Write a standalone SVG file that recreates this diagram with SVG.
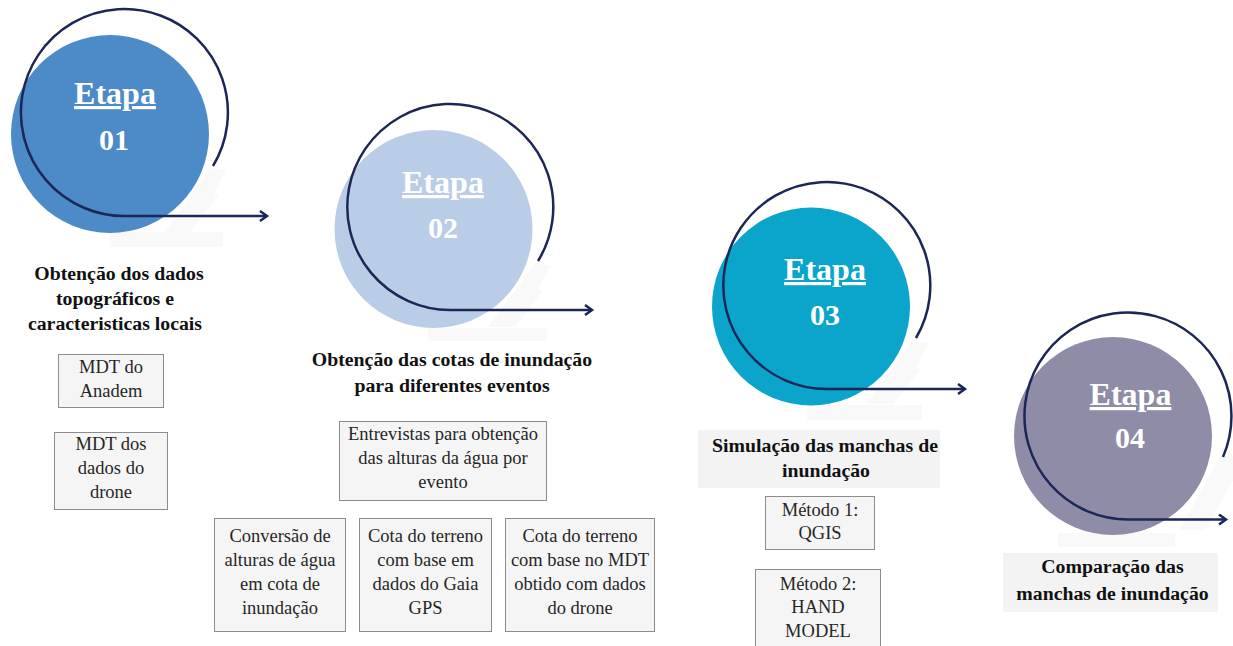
<svg xmlns="http://www.w3.org/2000/svg" width="1233" height="646" viewBox="0 0 1233 646">
  <style>
    .etapa { font-family: "Liberation Serif", "Times New Roman", serif; font-weight: bold; font-size: 32px; fill: #ffffff; text-anchor: middle; text-decoration: underline; }
    .num { font-family: "Liberation Serif", "Times New Roman", serif; font-weight: bold; font-size: 30px; fill: #ffffff; text-anchor: middle; }
    .title { font-family: "Liberation Serif", "Times New Roman", serif; font-weight: bold; font-size: 19.8px; fill: #111111; text-anchor: middle; }
    .box { fill: #f5f5f5; stroke: #8c8c8c; stroke-width: 1; }
    .btxt { font-family: "Liberation Serif", "Times New Roman", serif; font-size: 18.5px; fill: #262626; text-anchor: middle; }
    .ghost { fill: #f9f9f9; }
    .tbg { fill: #f3f3f3; }
    .arc { fill: none; stroke: #1c2657; stroke-width: 2.5; marker-end: url(#arr); }
  </style>
  <defs>
    <marker id="arr" markerWidth="12" markerHeight="14" refX="9" refY="6" orient="auto" markerUnits="userSpaceOnUse">
      <path d="M2,1 L9,6 L2,11" fill="none" stroke="#1c2657" stroke-width="2.5" stroke-linejoin="miter"/>
    </marker>
  </defs>

  <rect width="1233" height="646" fill="#ffffff"/>

  <!-- Stage 1 -->
  <g id="etapa01">
    <g class="ghost">
      <polygon points="210,168 226,170 214,194 218,196 190,232 165,232"/>
      <rect x="110" y="232" width="113" height="15"/>
    </g>
    <circle cx="110" cy="134" r="99" fill="#4d8ac8"/>
    <text class="etapa" x="115" y="104">Etapa</text>
    <text class="num" x="114" y="150">01</text>
  </g>

  <!-- Stage 2 -->
  <g id="etapa02">
    <g class="ghost">
      <polygon points="536,263 550,266 538,290 542,292 515,327 488,327"/>
      <rect x="428" y="328" width="119" height="13"/>
    </g>
    <circle cx="433.5" cy="229" r="99" fill="#bacde6"/>
    <text class="etapa" x="443" y="193">Etapa</text>
    <text class="num" x="443" y="238">02</text>
  </g>

  <!-- Stage 3 -->
  <g id="etapa03">
    <g class="ghost">
      <polygon points="913,340 928,343 916,368 920,370 893,404 866,404"/>
      <rect x="807" y="405" width="115" height="15"/>
    </g>
    <circle cx="811" cy="306.5" r="99" fill="#0ba5cb"/>
    <text class="etapa" x="825" y="280">Etapa</text>
    <text class="num" x="825" y="325">03</text>
  </g>

  <!-- Stage 4 -->
  <g id="etapa04">
    <g class="ghost">
      <polygon points="1220,456 1233,456 1233,480 1205,530 1180,530"/>
      <rect x="1058" y="533" width="117" height="14"/>
    </g>
    <circle cx="1113" cy="436" r="99" fill="#8f8ca7"/>
    <text class="etapa" x="1130.5" y="405">Etapa</text>
    <text class="num" x="1130" y="448">04</text>
  </g>

  <!-- Connectors (arcs with arrows) -->
  <g id="connectors">
    <path class="arc" d="M213,166 A103.5,103.5 0 1 0 126.5,216 L267,216"/>
    <path class="arc" d="M538,261 A103,103 0 1 0 450,310 L592,310"/>
    <path class="arc" d="M916,338 A103.5,103.5 0 1 0 827,389 L965,389"/>
    <path class="arc" d="M1223,457 A103.5,103.5 0 1 0 1129.5,519.5 L1226,519.5"/>
  </g>

  <!-- Stage 1 title and boxes -->
  <g id="titulo01">
    <text class="title" x="119" y="280">Obtenção dos dados</text>
    <text class="title" x="115" y="305">topográficos e</text>
    <text class="title" x="115" y="330">caracteristicas locais</text>
  </g>
  <g id="box-mdt-anadem">
    <rect class="box" x="58.5" y="354.5" width="105" height="53"/>
    <text class="btxt" x="111" y="373">MDT do</text>
    <text class="btxt" x="111" y="397">Anadem</text>
  </g>
  <g id="box-mdt-drone">
    <rect class="box" x="54.5" y="432.5" width="113" height="77"/>
    <text class="btxt" x="111" y="450">MDT dos</text>
    <text class="btxt" x="111" y="474">dados do</text>
    <text class="btxt" x="111" y="498">drone</text>
  </g>

  <!-- Stage 2 title and boxes -->
  <g id="titulo02">
    <text class="title" x="452" y="366">Obtenção das cotas de inundação</text>
    <text class="title" x="452" y="392">para diferentes eventos</text>
  </g>
  <g id="box-entrevistas">
    <rect class="box" x="339.5" y="421.5" width="207" height="79"/>
    <text class="btxt" x="443" y="440">Entrevistas para obtenção</text>
    <text class="btxt" x="443" y="464">das alturas da água por</text>
    <text class="btxt" x="443" y="488">evento</text>
  </g>
  <g id="box-conversao">
    <rect class="box" x="214.5" y="518.5" width="131" height="113"/>
    <text class="btxt" x="280" y="542">Conversão de</text>
    <text class="btxt" x="280" y="566">alturas de água</text>
    <text class="btxt" x="280" y="590">em cota de</text>
    <text class="btxt" x="280" y="614">inundação</text>
  </g>
  <g id="box-gaia">
    <rect class="box" x="359.5" y="518.5" width="132" height="113"/>
    <text class="btxt" x="425.5" y="542">Cota do terreno</text>
    <text class="btxt" x="425.5" y="566">com base em</text>
    <text class="btxt" x="425.5" y="590">dados do Gaia</text>
    <text class="btxt" x="425.5" y="614">GPS</text>
  </g>
  <g id="box-mdt-drone2">
    <rect class="box" x="505.5" y="518.5" width="149" height="113"/>
    <text class="btxt" x="580" y="542">Cota do terreno</text>
    <text class="btxt" x="580" y="566">com base no MDT</text>
    <text class="btxt" x="580" y="590">obtido com dados</text>
    <text class="btxt" x="580" y="614">do drone</text>
  </g>

  <!-- Stage 3 title and boxes -->
  <g id="titulo03">
    <rect class="tbg" x="698" y="430" width="242" height="58"/>
    <text class="title" x="825" y="452">Simulação das manchas de</text>
    <text class="title" x="826" y="477">inundação</text>
  </g>
  <g id="box-metodo1">
    <rect class="box" x="765.5" y="496.5" width="109" height="53"/>
    <text class="btxt" x="820" y="516">Método 1:</text>
    <text class="btxt" x="820" y="539">QGIS</text>
  </g>
  <g id="box-metodo2">
    <rect class="box" x="755.5" y="569.5" width="125" height="90"/>
    <text class="btxt" x="818" y="590">Método 2:</text>
    <text class="btxt" x="818" y="613">HAND</text>
    <text class="btxt" x="818" y="637">MODEL</text>
  </g>

  <!-- Stage 4 title -->
  <g id="titulo04">
    <rect class="tbg" x="1003" y="553" width="215" height="59"/>
    <text class="title" x="1112.5" y="573">Comparação das</text>
    <text class="title" x="1112.5" y="600">manchas de inundação</text>
  </g>
</svg>
